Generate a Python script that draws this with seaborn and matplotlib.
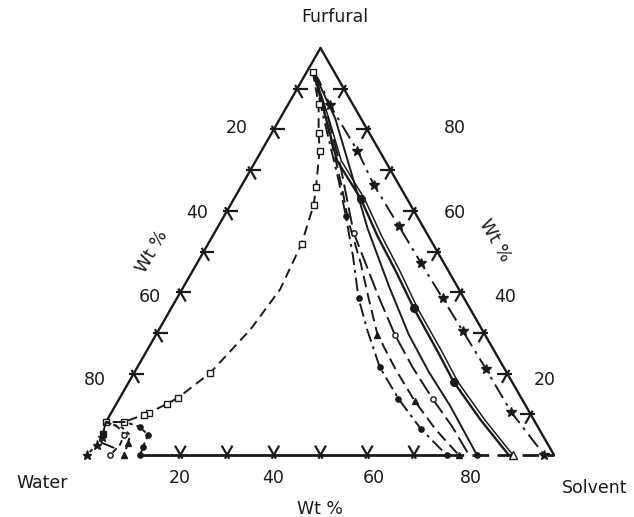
import numpy as np
import pandas as pd
import matplotlib
matplotlib.use("Agg")
import matplotlib.pyplot as plt
import seaborn as sns

sns.set_theme(style="white")
plt.rcParams['font.family'] = ['DejaVu Sans']

# ---------------- data (wt %, solvent / furfural; water = remainder) -------------
# solvent-rich branches
a_solvent = [1.5, 8.3, 14.1, 20.2, 26.0, 32.5, 38.9, 44.9, 51.8, 59.8, 68.3, 77.0]
a_furfural = [94.1, 84.2, 76.0, 67.4, 58.8, 48.9, 38.5, 30.4, 21.7, 13.8, 6.4, 0.0]

b_solvent = [1.5, 9.6, 15.4, 21.4, 27.2, 35.0, 41.2, 47.4, 55.6, 63.5, 71.6, 79.6]
b_furfural = [94.1, 83.0, 74.8, 66.2, 57.5, 47.2, 38.3, 29.6, 21.0, 13.3, 6.2, 0.0]

c_solvent = [1.5, 10.3, 18.7, 29.8, 34.0, 42.9, 51.1, 59.0, 67.1, 74.8, 81.8]
c_furfural = [94.1, 82.7, 71.1, 54.6, 49.6, 39.0, 29.6, 21.5, 13.8, 6.9, 0.0]

d_solvent = [1.5, 11.8, 21.5, 32.3, 43.9, 54.1, 62.9, 71.9, 83.5]
d_furfural = [94.1, 82.7, 69.9, 55.6, 41.5, 29.6, 20.5, 11.9, 0.0]

e_solvent = [1.5, 9.6, 17.4, 27.1, 35.3, 43.5, 52.0, 62.4, 69.5, 80.0, 90.3]
e_furfural = [94.1, 83.0, 72.3, 63.0, 53.8, 45.2, 36.0, 25.4, 18.0, 8.6, 0.0]

f_solvent = [1.5, 10.2, 18.3, 27.9, 36.2, 44.4, 52.8, 63.3, 70.4, 80.9, 91.2]
f_furfural = [94.1, 83.0, 72.3, 63.0, 53.8, 45.2, 36.0, 25.4, 18.0, 8.6, 0.0]

g_solvent = [1.5, 3.6, 9.1, 20.5, 28.2, 38.6, 47.9, 56.9, 65.3, 74.8, 85.5, 97.9]
g_furfural = [94.1, 92.1, 85.9, 74.8, 66.4, 56.3, 47.2, 38.5, 30.4, 21.2, 10.6, 0.0]

# large water-rich dome (open squares)
sq_solvent = [1.3, 6.5, 10.1, 12.4, 16.1, 17.8, 20.0, 21.0, 19.6, 16.3, 12.5, 10.9, 8.1, 7.3, 3.8, 0.0]
sq_furfural = [94.1, 86.2, 79.0, 74.8, 65.9, 61.5, 51.9, 40.7, 30.9, 20.2, 14.1, 12.6, 10.4, 9.9, 8.1, 8.1]

# water-rich branches near the water corner
al_solvent = [0.0, 4.1, 7.9, 10.6, 11.0, 11.4]
al_furfural = [8.1, 8.1, 6.9, 4.9, 2.0, 0.0]

bl_solvent = [0.0, 4.2, 6.8, 7.3, 7.6, 7.9]
bl_furfural = [8.1, 6.7, 4.9, 3.0, 1.5, 0.0]

cl_solvent = [0.0, 3.0, 5.5, 5.8, 5.0]
cl_furfural = [8.1, 7.0, 5.0, 2.5, 0.0]

el_solvent = [0.0, 0.8, 1.6, 4.8]
el_furfural = [8.1, 5.2, 3.0, 1.8]

gl_solvent = [0.0, 1.0, 0.8, 0.0]
gl_furfural = [8.1, 4.5, 2.5, 0.0]

# axis ticks / labels
left_tick_furfural = [20, 30, 40, 50, 60, 70, 80, 90]
right_tick_furfural = [10, 20, 30, 40, 50, 60, 70, 80, 90]
bottom_tick_solvent = [20, 30, 40, 50, 60, 70]
tick_labels = ["20", "40", "60", "80"]

# ---------------- figure ----------------
W, H = 634, 517
fig = plt.figure(figsize=(W / 100, H / 100), dpi=100)
fig.patch.set_facecolor("white")
ax = fig.add_axes([87 / W, 1 - 455 / H, 467 / W, 407 / H])
ax.set_xlim(0, 1)
ax.set_ylim(0, 1)
ax.axis("off")


def tern(s, f):
    s = np.asarray(s, float) / 100.0
    f = np.asarray(f, float) / 100.0
    return s + f / 2.0, f


# triangle frame
bx, by = tern([11.4, 77.0], [0, 0])
ax.plot(bx, by, color="k", lw=2.0, clip_on=False, solid_capstyle="butt")
bx, by = tern([77.0, 100], [0, 0])
ax.plot(bx, by, color="k", lw=2.0, clip_on=False, linestyle=(0, (6, 3)))
rx, ry = tern([100, 0], [0, 100])
ax.plot(rx, ry, color="k", lw=1.7, clip_on=False)
lx, ly = tern([0, 0], [8.1, 100])
ax.plot(lx, ly, color="k", lw=1.7, clip_on=False)

# tick marks (two short strokes along the other grid directions)
inner, outer = 2.3, 0.9


def tick(s, f, d1, d2):
    for ds, df in (d1, d2):
        xs, ys = tern([s - ds * outer, s + ds * inner], [f - df * outer, f + df * inner])
        ax.plot(xs, ys, color="k", lw=1.6, clip_on=False, solid_capstyle="butt")


for f in left_tick_furfural:
    tick(0, f, (1, 0), (1, -1))
for f in right_tick_furfural:
    tick(100 - f, f, (-1, 0), (0, -1))
for s in bottom_tick_solvent:
    tick(s, 0, (0, 1), (-1, 1))


def curve(sv, fv, **kw):
    x, y = tern(sv, fv)
    df = pd.DataFrame({"x": x, "y": y})
    base = dict(color="k", lw=1.4, sort=False, estimator=None, ax=ax,
                clip_on=False, mec="k", mew=1.0, legend=False)
    base.update(kw)
    sns.lineplot(data=df, x="x", y="y", **base)


curve(a_solvent, a_furfural, linestyle=(0, (7, 2.5, 1.5, 2.5)), marker="o", ms=3.8,
      mfc="k", markevery=[4, 6, 8, 9, 10, 11])
curve(b_solvent, b_furfural, linestyle=(0, (6, 3)), marker="^", ms=4.8,
      mfc="k", markevery=[7, 9, 11])
curve(c_solvent, c_furfural, linestyle=(0, (9, 3)), marker="o", ms=3.8,
      mfc="white", markevery=[3, 6, 8])
curve(d_solvent, d_furfural, linestyle="-", marker="o", ms=3.8, mfc="k",
      markevery=[8])
curve(e_solvent, e_furfural, linestyle="-", lw=1.7, marker="o", ms=5.5, mfc="k",
      markevery=[3, 6, 8])
curve(f_solvent, f_furfural, linestyle="-", lw=1.1, marker="^", ms=5.5, mfc="white",
      markevery=[10])
curve(g_solvent, g_furfural, linestyle=(0, (8, 3, 1.5, 3)), marker="*", ms=7,
      mfc="k", markevery=list(range(2, 12)))
curve(sq_solvent, sq_furfural, linestyle=(0, (5, 3)), marker="s", ms=3.8,
      mfc="white", markevery=[0, 1, 2, 3, 4, 5, 6, 9, 10, 11, 12, 13, 14, 15])

curve(al_solvent, al_furfural, linestyle=(0, (2, 2)), marker="o", ms=3.8, mfc="k",
      markevery=[2, 3, 4, 5])
curve(bl_solvent, bl_furfural, linestyle=(0, (2, 2)), marker="^", ms=4.5, mfc="k",
      markevery=[3, 5])
curve(cl_solvent, cl_furfural, linestyle=(0, (3, 2)), marker="o", ms=3.8, mfc="white",
      markevery=[2, 4])
curve(el_solvent, el_furfural, linestyle="-", marker="s", ms=4.5, mfc="k",
      markevery=[1])
curve(gl_solvent, gl_furfural, linestyle=(0, (2, 2)), marker="*", ms=6.5, mfc="k",
      markevery=[1, 2, 3])

ax.set_xlabel("")
ax.set_ylabel("")


def ptext(x, y, s, **kw):
    fig.text(x / W, 1 - y / H, s, ha="center", va="center", fontsize=12.5,
             color="k", **kw)


ptext(335, 17, "Furfural")
ptext(42, 483, "Water")
ptext(595, 488, "Solvent")
ptext(320, 509, "Wt %")
for lab, x in zip(tick_labels, [180, 273, 374, 471]):
    ptext(x, 478, lab)
for lab, (x, y) in zip(tick_labels, [(237, 128), (197, 213), (150, 297), (95, 380)]):
    ptext(x, y, lab)
for lab, (x, y) in zip(tick_labels[::-1], [(455, 128), (455, 213), (505, 297), (545, 380)]):
    ptext(x, y, lab)
ptext(152, 252, "Wt %", rotation=60)
ptext(495, 240, "Wt %", rotation=-60)

fig.savefig("out.png", dpi=100, facecolor="white")
